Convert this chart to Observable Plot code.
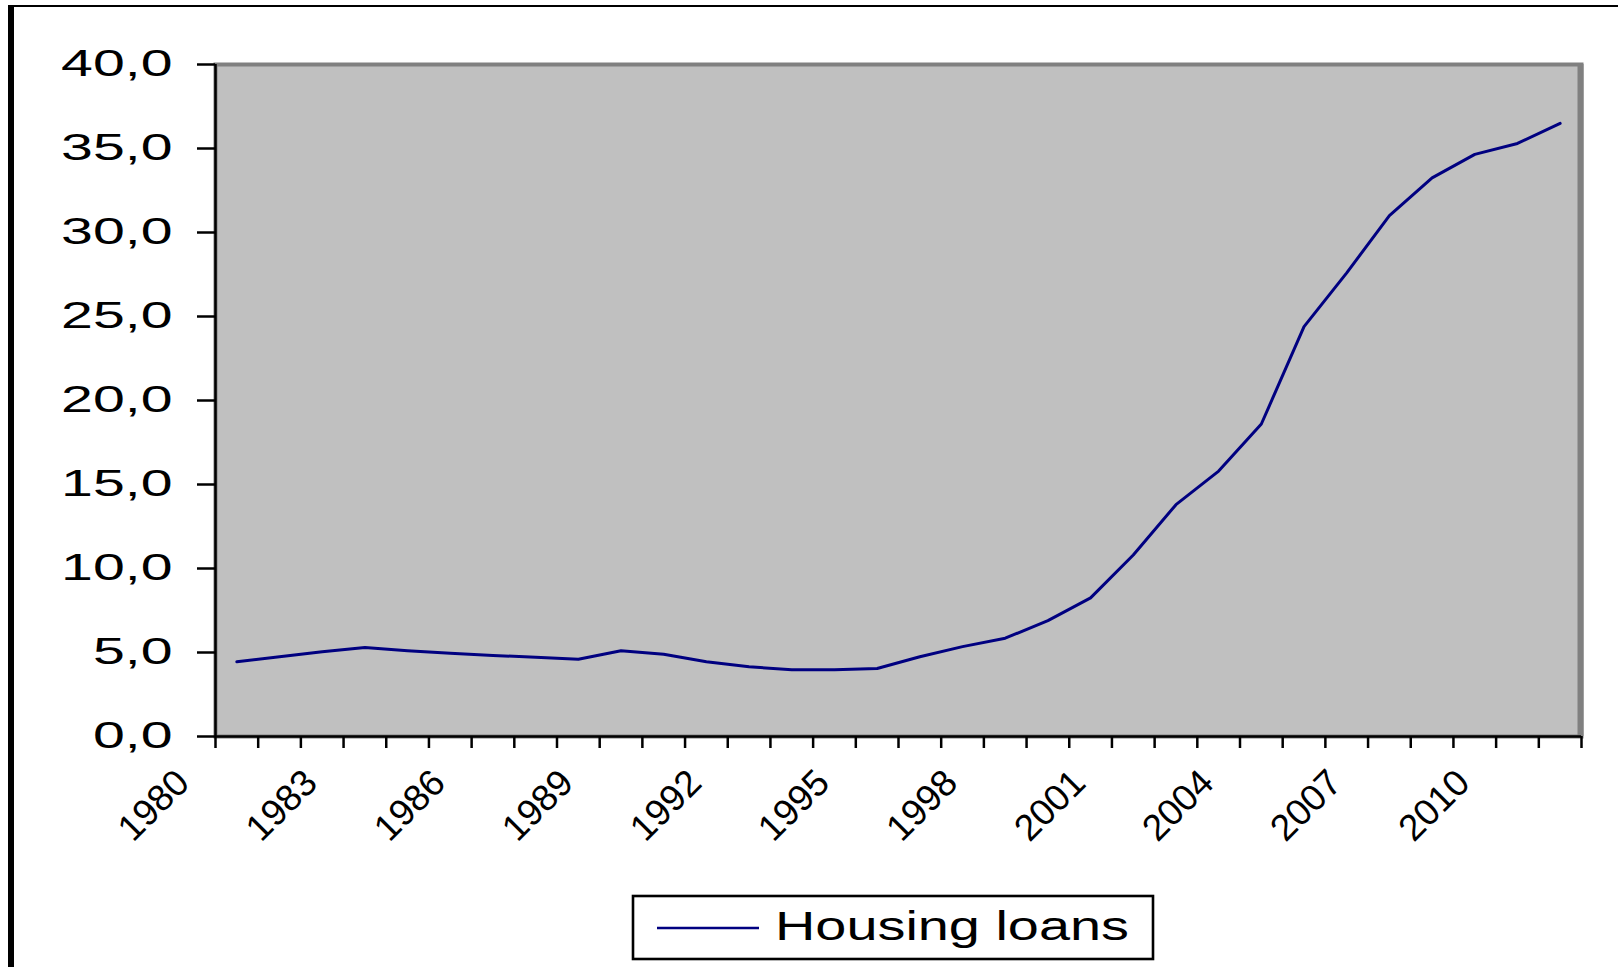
<!DOCTYPE html>
<html>
<head>
<meta charset="utf-8">
<script src="https://cdn.jsdelivr.net/npm/d3@7"></script>
<script src="https://cdn.jsdelivr.net/npm/@observablehq/plot@0.6"></script>
<style>
  html, body { margin: 0; padding: 0; background: #fff; }
  #wrap { position: relative; width: 1618px; height: 967px; overflow: hidden; background: #fff; }
  #chart { position: absolute; left: 0; top: 0; }
  #border { position: absolute; left: 8px; top: 5px; right: 0; bottom: 0; border-left: 6px solid #000; border-top: 2px solid #000; pointer-events: none; }
  #legend { position: absolute; left: 0; top: 0; pointer-events: none; }
</style>
</head>
<body>
<div id="wrap">
  <div id="chart"></div>
  <svg id="legend" width="1618" height="967"></svg>
  <div id="border"></div>
</div>
<script>
// ---- data ----
const years = [1980, 1981, 1982, 1983, 1984, 1985, 1986, 1987, 1988, 1989,
               1990, 1991, 1992, 1993, 1994, 1995, 1996, 1997, 1998, 1999,
               2000, 2001, 2002, 2003, 2004, 2005, 2006, 2007, 2008, 2009,
               2010, 2011];
const housingLoans = [4.45, 4.75, 5.05, 5.3, 5.1, 4.95, 4.82, 4.72, 4.6, 5.1,
                      4.9, 4.45, 4.15, 3.98, 3.98, 4.05, 4.75, 5.35, 5.85, 6.9,
                      8.25, 10.8, 13.8, 15.8, 18.6, 24.4, 27.6, 31.0, 33.25, 34.65,
                      35.3, 36.5];
const yTicks = [0, 5, 10, 15, 20, 25, 30, 35, 40];
const xTickLabels = ["1980", "1983", "1986", "1989", "1992", "1995", "1998", "2001", "2004", "2007", "2010"];
const seriesName = "Housing loans";

// ---- derived table ----
const table = years.map((year, i) => ({year, value: housingLoans[i]}));
const xMin = years[0] - 0.5;
const xMax = years[years.length - 1] + 0.5;
const boundaries = years.map(y => y - 0.5).concat([xMax]);
const fmt = d => d3.format(".1f")(d).replace(".", ",");

const chart = Plot.plot({
  width: 1618,
  height: 860,
  marginLeft: 215,
  marginRight: 37,
  marginTop: 64,
  marginBottom: 124,
  x: {domain: [xMin, xMax], axis: null, label: null},
  y: {domain: [0, 40], axis: null, label: null},
  style: {fontFamily: "'Liberation Sans', Arial, sans-serif", fontSize: "36px", background: "transparent", color: "#000", overflow: "visible"},
  marks: [
    Plot.frame({fill: "#c0c0c0", stroke: "#808080", strokeWidth: 4}),
    Plot.ruleX([xMax], {stroke: "#808080", strokeWidth: 6, dx: -1}),
    Plot.line(table, {x: "year", y: "value", stroke: "#000080", strokeWidth: 3}),
    Plot.ruleY([0], {stroke: "#000", strokeWidth: 2.5}),
    Plot.ruleX([xMin], {stroke: "#000", strokeWidth: 2.5}),
    Plot.axisY({ticks: yTicks, tickSize: 18, tickPadding: 25, tickFormat: fmt, fontSize: 36, stroke: "#000", strokeWidth: 2.5, label: null}),
    Plot.axisX({ticks: boundaries, tickSize: 12, tickFormat: () => "", stroke: "#000", strokeWidth: 2.5, label: null}),
    Plot.text(xTickLabels, {
      x: d => +d, text: d => d, frameAnchor: "bottom",
      rotate: -45, textAnchor: "end", lineAnchor: "middle",
      dx: -54, dy: 40, fontSize: 37, fill: "#000", ariaLabel: "x-labels"
    })
  ]
});
document.getElementById("chart").appendChild(chart);

// horizontal stretch of tick labels as in the reference rendering
d3.select(chart).selectAll('g[aria-label="y-axis tick label"] text').each(function() {
  const len = this.getComputedTextLength();
  this.setAttribute("textLength", (len * 1.59).toFixed(1));
  this.setAttribute("lengthAdjust", "spacingAndGlyphs");
});
d3.select(chart).selectAll('g[aria-label="x-labels"] text').each(function() {
  this.setAttribute("textLength", "94");
  this.setAttribute("lengthAdjust", "spacingAndGlyphs");
});

// ---- legend ----
const lg = d3.select("#legend");
lg.append("rect").attr("x", 633).attr("y", 896).attr("width", 520).attr("height", 63)
  .attr("fill", "#fff").attr("stroke", "#000").attr("stroke-width", 2.6);
lg.append("line").attr("x1", 657).attr("x2", 759).attr("y1", 928).attr("y2", 928)
  .attr("stroke", "#000080").attr("stroke-width", 2.4);
lg.append("text").attr("x", 775).attr("y", 940)
  .attr("font-family", "'Liberation Sans', Arial, sans-serif").attr("font-size", 41)
  .attr("fill", "#000").attr("textLength", 354).attr("lengthAdjust", "spacingAndGlyphs")
  .text(seriesName);
</script>
</body>
</html>
